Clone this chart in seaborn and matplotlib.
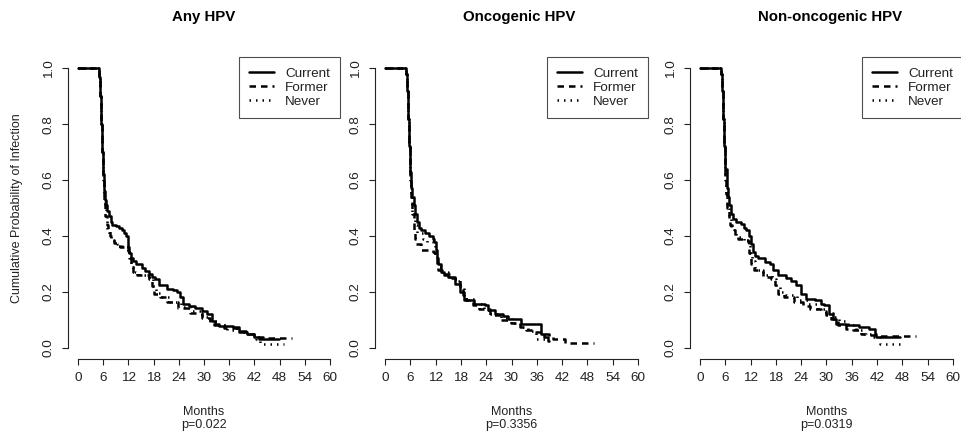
import matplotlib
matplotlib.use("Agg")
import matplotlib.pyplot as plt
import pandas as pd
import seaborn as sns

# -----------------------------
# Data
# -----------------------------
panel_titles = ["Any HPV", "Oncogenic HPV", "Non-oncogenic HPV"]
p_values = ["p=0.022", "p=0.3356", "p=0.0319"]
groups = ["Current", "Former", "Never"]
x_ticks = [0, 6, 12, 18, 24, 30, 36, 42, 48, 54, 60]
y_ticks = [0.0, 0.2, 0.4, 0.6, 0.8, 1.0]

# Any HPV
any_current_t = [0, 5.0, 5.3, 5.5, 5.7, 5.9, 6.1, 6.4, 6.7, 7.0, 7.4, 7.8, 8.2, 9.0, 9.8, 10.5,
                 11.0, 11.5, 11.8, 12.0, 12.2, 12.5, 13.0, 13.8, 15.2, 16.0, 16.8, 17.6, 18.4,
                 19.2, 21.2, 22.5, 23.6, 24.3, 25.1, 26.5, 27.9, 29.5, 30.7, 31.9, 32.7, 33.5,
                 37.0, 38.3, 40.3, 41.8, 43.0, 47.8]
any_current_s = [1.0, 0.97, 0.9, 0.8, 0.7, 0.62, 0.56, 0.53, 0.51, 0.49, 0.47, 0.45, 0.44, 0.435,
                 0.43, 0.42, 0.41, 0.40, 0.38, 0.36, 0.34, 0.32, 0.31, 0.30, 0.285, 0.275, 0.265,
                 0.255, 0.245, 0.225, 0.21, 0.205, 0.198, 0.18, 0.157, 0.15, 0.144, 0.133, 0.12,
                 0.097, 0.085, 0.079, 0.075, 0.058, 0.05, 0.04, 0.032, 0.032]
any_former_t = [0, 5.0, 5.3, 5.5, 5.7, 5.9, 6.1, 6.3, 6.5, 6.8, 7.1, 7.5, 8.0, 8.5, 9.3, 10.1,
                11.0, 11.8, 12.2, 12.5, 13.2, 14.0, 16.8, 17.6, 18.2, 19.5, 21.2, 23.9, 26.7,
                29.5, 31.5, 32.5, 34.7, 37.9, 40.0, 41.8, 44.0, 51.0]
any_former_s = [1.0, 0.97, 0.9, 0.8, 0.7, 0.6, 0.53, 0.50, 0.47, 0.44, 0.42, 0.40, 0.385, 0.375,
                0.365, 0.36, 0.355, 0.345, 0.32, 0.29, 0.27, 0.26, 0.247, 0.22, 0.193, 0.18,
                0.163, 0.144, 0.126, 0.108, 0.09, 0.08, 0.07, 0.06, 0.05, 0.04, 0.035, 0.035]
any_never_t = [0, 5.0, 5.3, 5.5, 5.7, 5.9, 6.1, 6.3, 6.6, 6.9, 7.3, 7.8, 8.5, 9.3, 10.5, 11.8,
               12.2, 12.6, 13.5, 14.5, 16.8, 17.8, 18.5, 20.0, 22.0, 24.5, 27.0, 29.5, 31.5,
               33.0, 35.5, 38.5, 40.5, 42.5, 43.4, 49.0]
any_never_s = [1.0, 0.97, 0.9, 0.8, 0.7, 0.6, 0.53, 0.50, 0.46, 0.42, 0.40, 0.385, 0.375, 0.37,
               0.36, 0.35, 0.32, 0.29, 0.27, 0.26, 0.25, 0.22, 0.195, 0.18, 0.165, 0.145, 0.13,
               0.11, 0.095, 0.08, 0.065, 0.055, 0.045, 0.03, 0.013, 0.013]

# Oncogenic HPV
onc_current_t = [0, 5.0, 5.3, 5.5, 5.7, 5.9, 6.2, 6.5, 6.8, 7.1, 7.5, 8.0, 8.6, 9.5, 10.5, 11.3,
                 11.7, 12.0, 12.3, 12.6, 13.3, 14.0, 14.9, 16.5, 17.7, 18.8, 21.2, 23.6, 24.4,
                 26.0, 28.0, 29.1, 32.3, 37.1, 37.8, 38.6, 39.0]
onc_current_s = [1.0, 0.98, 0.92, 0.82, 0.72, 0.63, 0.57, 0.54, 0.51, 0.48, 0.45, 0.43, 0.42, 0.41,
                 0.40, 0.39, 0.38, 0.35, 0.32, 0.30, 0.27, 0.26, 0.253, 0.23, 0.20, 0.17, 0.158,
                 0.152, 0.134, 0.122, 0.112, 0.104, 0.086, 0.05, 0.04, 0.026, 0.026]
onc_former_t = [0, 5.0, 5.3, 5.5, 5.7, 5.9, 6.1, 6.4, 6.8, 7.1, 7.4, 8.5, 11.3, 11.8, 12.2, 12.6,
                13.5, 15.3, 16.5, 17.7, 18.5, 19.2, 20.8, 22.4, 24.8, 27.6, 29.9, 31.9, 33.5,
                35.5, 37.5, 39.0, 39.8, 42.6, 49.7]
onc_former_s = [1.0, 0.98, 0.92, 0.82, 0.72, 0.6, 0.53, 0.48, 0.42, 0.39, 0.373, 0.35, 0.343, 0.32,
                0.30, 0.28, 0.265, 0.25, 0.247, 0.22, 0.19, 0.17, 0.152, 0.14, 0.116, 0.10, 0.088,
                0.074, 0.062, 0.056, 0.05, 0.044, 0.032, 0.018, 0.018]
onc_never_t = [0, 5.0, 5.3, 5.5, 5.7, 5.9, 6.1, 6.5, 7.0, 7.6, 8.9, 10.0, 11.3, 11.8, 12.2, 12.6,
               13.5, 15.0, 16.5, 17.7, 18.8, 21.0, 23.5, 25.0, 27.5, 30.0, 32.0, 34.0, 35.9, 38.0]
onc_never_s = [1.0, 0.98, 0.92, 0.82, 0.72, 0.6, 0.54, 0.48, 0.44, 0.41, 0.39, 0.38, 0.367, 0.34,
               0.31, 0.29, 0.27, 0.255, 0.24, 0.215, 0.175, 0.155, 0.135, 0.12, 0.105, 0.09,
               0.075, 0.06, 0.032, 0.032]

# Non-oncogenic HPV
non_current_t = [0, 5.0, 5.3, 5.5, 5.7, 5.9, 6.3, 6.6, 6.9, 7.3, 7.8, 8.5, 9.7, 10.4, 10.9, 11.7,
                 12.1, 12.5, 13.1, 13.7, 15.3, 16.5, 17.3, 18.4, 20.4, 21.6, 22.8, 24.0, 25.2,
                 27.2, 28.7, 29.5, 30.7, 31.5, 32.3, 34.7, 37.8, 40.2, 41.4, 41.8, 47.4]
non_current_s = [1.0, 0.98, 0.92, 0.82, 0.72, 0.64, 0.57, 0.54, 0.51, 0.48, 0.46, 0.45, 0.442,
                 0.43, 0.42, 0.40, 0.37, 0.343, 0.33, 0.32, 0.307, 0.30, 0.28, 0.26, 0.25, 0.24,
                 0.223, 0.194, 0.176, 0.17, 0.158, 0.152, 0.122, 0.104, 0.086, 0.08, 0.074,
                 0.068, 0.05, 0.038, 0.038]
non_former_t = [0, 5.0, 5.3, 5.5, 5.7, 5.9, 6.1, 6.5, 6.8, 7.1, 7.6, 8.2, 9.0, 10.1, 11.3, 11.7,
                12.1, 12.9, 14.9, 16.9, 17.7, 18.4, 20.0, 22.4, 24.4, 26.0, 28.7, 29.9, 31.1,
                32.7, 34.7, 36.3, 38.2, 39.4, 42.2, 51.3]
non_former_s = [1.0, 0.98, 0.92, 0.82, 0.72, 0.6, 0.55, 0.5, 0.46, 0.44, 0.42, 0.40, 0.39, 0.385,
                0.379, 0.34, 0.30, 0.277, 0.253, 0.247, 0.223, 0.194, 0.182, 0.164, 0.148, 0.14,
                0.13, 0.118, 0.104, 0.08, 0.068, 0.062, 0.05, 0.045, 0.044, 0.044]
non_never_t = [0, 5.0, 5.3, 5.5, 5.7, 5.9, 6.1, 6.5, 6.9, 7.4, 8.0, 8.5, 10.5, 11.5, 11.9, 12.3,
               13.0, 15.0, 17.0, 18.0, 19.0, 20.5, 23.0, 25.5, 28.0, 30.0, 31.5, 33.0, 35.0,
               37.0, 39.0, 41.0, 42.6, 48.0]
non_never_s = [1.0, 0.98, 0.92, 0.82, 0.72, 0.6, 0.55, 0.5, 0.46, 0.43, 0.41, 0.395, 0.385, 0.375,
               0.34, 0.31, 0.28, 0.26, 0.245, 0.22, 0.2, 0.19, 0.17, 0.155, 0.14, 0.125, 0.11,
               0.095, 0.08, 0.065, 0.05, 0.04, 0.014, 0.014]

panel_series = [
    [(any_current_t, any_current_s), (any_former_t, any_former_s), (any_never_t, any_never_s)],
    [(onc_current_t, onc_current_s), (onc_former_t, onc_former_s), (onc_never_t, onc_never_s)],
    [(non_current_t, non_current_s), (non_former_t, non_former_s), (non_never_t, non_never_s)],
]

# -----------------------------
# Style
# -----------------------------
sns.set_style("ticks")
plt.rcParams["font.family"] = ["Liberation Sans", "DejaVu Sans"]
ink = "#222222"
dashes = {"Current": "", "Former": (2.6, 2.0), "Never": (0.6, 2.0)}

W, H = 961, 438
fig = plt.figure(figsize=(W / 100, H / 100), dpi=100)
axes_px = [(68, 340), (375, 648), (690, 963)]
title_px = [204, 519, 830]
top_px, bottom_px = 57, 359

for i, (left, right) in enumerate(axes_px):
    ax = fig.add_axes([left / W, 1 - bottom_px / H, (right - left) / W, (bottom_px - top_px) / H])
    frames = []
    for g, (t, s) in zip(groups, panel_series[i]):
        frames.append(pd.DataFrame({"month": t, "prob": s, "group": g}))
    df = pd.concat(frames, ignore_index=True)

    sns.lineplot(data=df, x="month", y="prob", style="group", style_order=groups,
                 dashes=dashes, color="black", estimator=None, sort=False,
                 drawstyle="steps-post", linewidth=1.8, legend=False, ax=ax)

    ax.set_xlim(-2.4, 62.4)
    ax.set_ylim(-0.04, 1.04)
    ax.set_xticks(x_ticks)
    ax.set_yticks(y_ticks)
    ax.set_yticklabels([f"{v:.1f}" for v in y_ticks], rotation=90, va="center")
    for side in ["top", "right"]:
        ax.spines[side].set_visible(False)
    ax.spines["bottom"].set_bounds(0, 60)
    ax.spines["left"].set_bounds(0, 1)
    for side in ["bottom", "left"]:
        ax.spines[side].set_color(ink)
        ax.spines[side].set_linewidth(0.8)
    ax.tick_params(length=4.5, width=0.8, color=ink, labelcolor=ink, labelsize=9.7, pad=5)
    ax.set_xlabel("")
    ax.set_ylabel("")

    cx = (left + right) / 2 / W
    fig.text(cx, 1 - 412 / H, "Months", ha="center", va="center", fontsize=9, color=ink)
    fig.text(cx, 1 - 425 / H, p_values[i], ha="center", va="center", fontsize=9, color=ink)
    fig.text(title_px[i] / W, 1 - 17 / H, panel_titles[i], ha="center", va="center",
             fontsize=10.8, fontweight="bold", color="black")

    handles = ax.lines[:3]
    leg = ax.legend(handles, groups, loc="upper right", borderaxespad=0, fancybox=False,
                    frameon=True, fontsize=9.7, handlelength=1.9, labelspacing=0.12,
                    borderpad=0.75, handletextpad=0.8)
    leg.get_frame().set_edgecolor(ink)
    leg.get_frame().set_linewidth(0.8)
    for txt in leg.get_texts():
        txt.set_color(ink)

    if i == 0:
        fig.text(17 / W, 1 - 208 / H, "Cumulative Probability of Infection", rotation=90,
                 ha="center", va="center", fontsize=9, color=ink)

fig.savefig("out.png", dpi=100)
